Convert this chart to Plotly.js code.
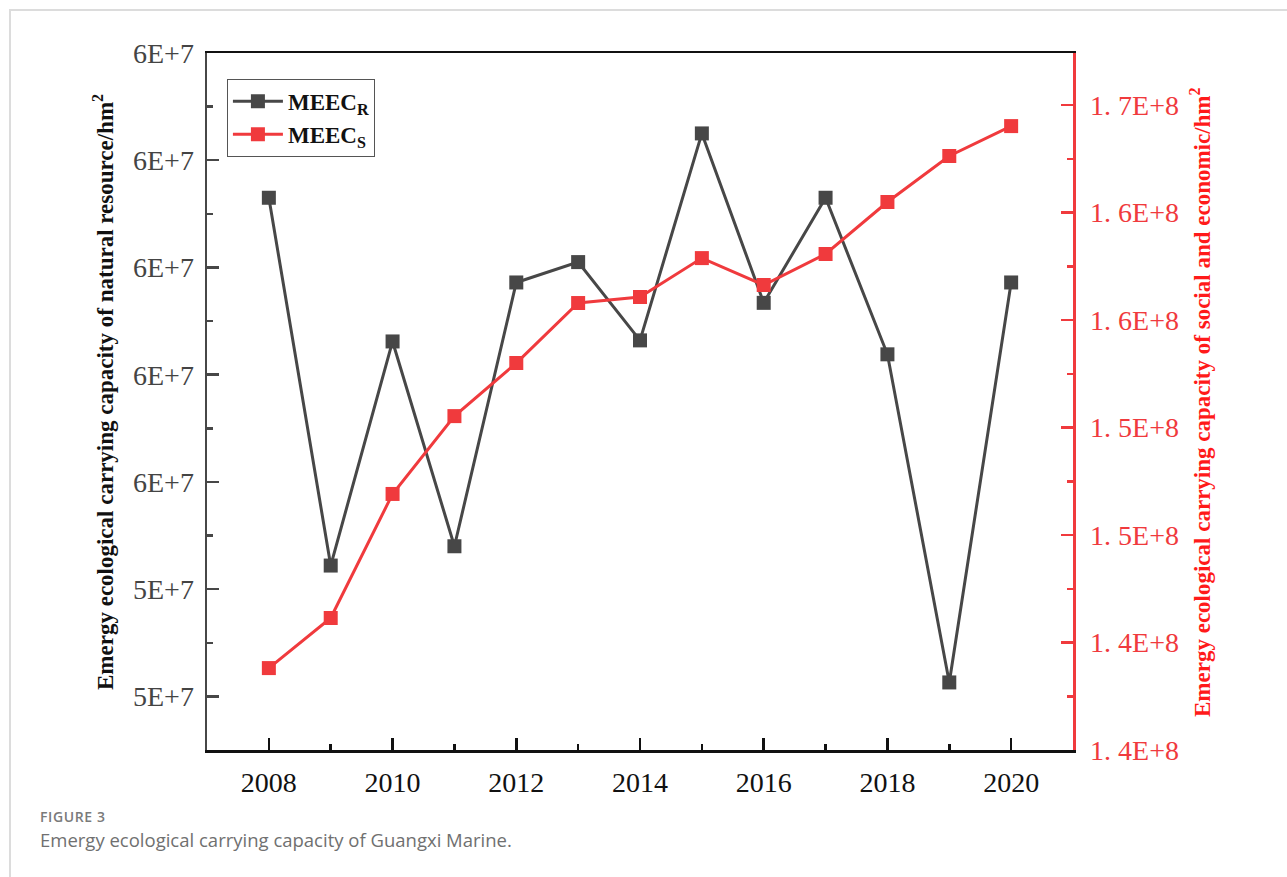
<!DOCTYPE html>
<html>
<head>
<meta charset="utf-8">
<script src="https://cdn.plot.ly/plotly-3.0.1.min.js"></script>
<style>
html,body{margin:0;padding:0;background:#fff;}
#frame{position:absolute;left:9px;top:9px;width:1400px;height:1000px;border-top:2px solid #dcdcdc;border-left:2px solid #dcdcdc;}
#chart{position:absolute;left:0;top:0;width:1287px;height:877px;}
.cap1{position:absolute;left:40px;top:807px;font-family:"Open Sans",sans-serif;font-size:14px;font-weight:600;color:#7a7a7a;letter-spacing:0.6px;}
.cap2{position:absolute;left:40px;top:827px;font-family:"Open Sans",sans-serif;font-size:18.5px;color:#707070;}
</style>
</head>
<body>
<div id="frame"></div>
<div id="chart"></div>
<div class="cap1">FIGURE 3</div>
<div class="cap2">Emergy ecological carrying capacity of Guangxi Marine.</div>
<script>
const years = [2008,2009,2010,2011,2012,2013,2014,2015,2016,2017,2018,2019,2020];
const meecR = [5.765e7,5.422e7,5.631e7,5.440e7,5.686e7,5.705e7,5.632e7,5.825e7,5.667e7,5.765e7,5.619e7,5.313e7,5.686e7];
const meecS = [1.4381e8,1.4614e8,1.5191e8,1.5553e8,1.5800e8,1.6079e8,1.6107e8,1.6288e8,1.6163e8,1.6307e8,1.6549e8,1.6763e8,1.6902e8];
const xTickVals = [2008,2010,2012,2014,2016,2018,2020];
const leftTickVals = [5.3e7,5.4e7,5.5e7,5.6e7,5.7e7,5.8e7,5.9e7];
const leftTickText = ["5E+7","5E+7","6E+7","6E+7","6E+7","6E+7","6E+7"];
const rightTickVals = [1.40e8,1.45e8,1.50e8,1.55e8,1.60e8,1.65e8,1.70e8];
const rightTickText = ["1. 4E+8","1. 4E+8","1. 5E+8","1. 5E+8","1. 6E+8","1. 6E+8","1. 7E+8"];

const gray = '#474747';
const red = '#f03a3d';
const serif = '"Liberation Serif","Times New Roman",serif';

const traces = [
  {x: years, y: meecR, name: 'MEEC<sub>R</sub>', type: 'scatter', mode: 'lines+markers',
   line: {color: gray, width: 3}, marker: {symbol: 'square', size: 14, color: gray}, yaxis: 'y'},
  {x: years, y: meecS, name: 'MEEC<sub>S</sub>', type: 'scatter', mode: 'lines+markers',
   line: {color: red, width: 3}, marker: {symbol: 'square', size: 14, color: red}, yaxis: 'y2'}
];

const layout = {
  width: 1287, height: 877,
  margin: {l: 207, r: 214, t: 53, b: 127},
  paper_bgcolor: 'rgba(0,0,0,0)', plot_bgcolor: 'rgba(0,0,0,0)',
  showlegend: true,
  legend: {x: 0.023, y: 0.963, xanchor: 'left', yanchor: 'top', bgcolor: '#fff',
    bordercolor: '#555', borderwidth: 1, font: {family: serif, size: 23, color: '#111', weight: 'bold'},
    tracegroupgap: 0, itemwidth: 50},
  xaxis: {range: [2007, 2021], tickmode: 'array', tickvals: xTickVals, ticktext: xTickVals.map(String),
    showgrid: false, zeroline: false, showline: true, linecolor: '#111', linewidth: 2.5, mirror: true,
    ticks: 'inside', ticklen: 12, tickwidth: 2.5, tickcolor: '#111',
    minor: {dtick: 1, tick0: 2007, ticks: 'inside', ticklen: 6, tickwidth: 2.5, tickcolor: '#111'},
    tickfont: {family: serif, size: 28, color: '#111'}, ticklabelstandoff: 6},
  yaxis: {range: [5.25e7, 5.9e7], tickmode: 'array', tickvals: leftTickVals, ticktext: leftTickText,
    showgrid: false, zeroline: false, showline: true, linecolor: gray, linewidth: 2.5,
    ticks: 'inside', ticklen: 12, tickwidth: 2.5, tickcolor: gray,
    minor: {tick0: 5.25e7, dtick: 1e6, ticks: 'inside', ticklen: 6, tickwidth: 2.5, tickcolor: gray},
    tickfont: {family: serif, size: 28, color: '#444'}, ticklabelstandoff: 5},
  yaxis2: {range: [1.40e8, 1.7242e8], overlaying: 'y', side: 'right', tickmode: 'array',
    tickvals: rightTickVals, ticktext: rightTickText,
    showgrid: false, zeroline: false, showline: true, linecolor: red, linewidth: 2.5,
    ticks: 'inside', ticklen: 12, tickwidth: 2.5, tickcolor: red,
    minor: {tick0: 1.425e8, dtick: 5e6, ticks: 'inside', ticklen: 6, tickwidth: 2.5, tickcolor: red},
    tickfont: {family: serif, size: 28, color: red}, ticklabelstandoff: 9},
  annotations: [
    {text: 'Emergy ecological carrying capacity of natural resource/hm<sup>2</sup>', xref: 'paper', yref: 'paper',
     x: (103-207)/866, y: (750-392)/697, xanchor: 'center', yanchor: 'middle', textangle: -90, showarrow: false,
     font: {family: serif, size: 23, color: '#111', weight: 'bold'}},
    {text: 'Emergy ecological carrying capacity of social and economic/hm<sup>2</sup>', xref: 'paper', yref: 'paper',
     x: (1200-207)/866, y: (750-402)/697, xanchor: 'center', yanchor: 'middle', textangle: -90, showarrow: false,
     font: {family: serif, size: 23, color: '#ff1a1a', weight: 'bold'}}
  ]
};

Plotly.newPlot('chart', traces, layout, {displayModeBar: false, staticPlot: true});
</script>
</body>
</html>
